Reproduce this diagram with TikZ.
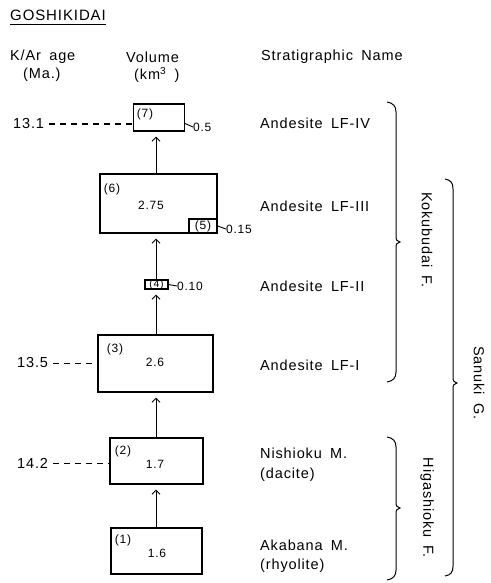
\documentclass[tikz,border=0pt]{standalone}
\usepackage{fontspec}
\setmainfont{Liberation Sans}[LetterSpace=6, WordSpace=1.7]
\usetikzlibrary{arrows.meta,calc}
\begin{document}
\begin{tikzpicture}[x=1pt,y=-1pt,
  big/.style={font=\fontsize{14.5}{17}\selectfont, inner sep=0pt},
  small/.style={font=\fontsize{12}{14}\selectfont, inner sep=0pt},
  tiny/.style={font=\fontsize{10.5}{12}\selectfont, inner sep=0pt},
  vbox/.style={draw, line width=1.1pt, inner sep=0pt},
  arr/.style={line width=1pt, -{Straight Barb[length=4pt,width=8pt]}, shorten >=5pt},
  agedash/.style={line width=1pt, dash pattern=on 6pt off 5pt},
  tick/.style={line width=0.9pt},
  brc/.style={line width=1pt}]
\useasboundingbox (0,0) rectangle (490,583);
% title and headings
\node[font=\fontsize{15}{17}\selectfont, inner sep=0pt, anchor=west] (g) at (10,15) {GOSHIKIDAI};
\draw[line width=1pt] ($(g.base west)+(0,4)$) -- ($(g.base east)+(0,4)$);
\node[big, anchor=west] (h1) at (10,57) {K/Ar age};
\node[big, anchor=west] (h2) at (23,75) {(Ma.)};
\node[big, anchor=west] (h3) at (126,57) {Volume};
\node[big, anchor=west] (h4) at (134,75) {(km\textsuperscript{3} )};
\node[big, anchor=west] (h5) at (261,57) {Stratigraphic Name};
% boxes
\node[vbox, minimum width=51pt, minimum height=27pt] (b7) at (159,117.5) {};
\node[vbox, minimum width=117pt, minimum height=59pt] (b6) at (158.5,203.5) {};
\node[vbox, minimum width=28pt, minimum height=14pt] (b5) at (203,226) {};
\node[vbox, minimum width=23pt, minimum height=9pt] (b4) at (156.5,284.5) {};
\node[vbox, minimum width=115pt, minimum height=57pt] (b3) at (155.5,363.5) {};
\node[vbox, minimum width=93pt, minimum height=46pt] (b2) at (156.5,461) {};
\node[vbox, minimum width=91pt, minimum height=46pt] (b1) at (156.5,551) {};
% box labels
\node[small] (t7) at (145,114) {(7)};
\node[small] (t6) at (112,189) {(6)};
\node[small] (v6) at (151,205) {2.75};
\node[small] (t5) at (b5) {(5)};
\node[tiny] (t4) at (b4) {(4)};
\node[small] (t3) at (115,349) {(3)};
\node[small] (v3) at (155,362) {2.6};
\node[small] (t2) at (123,451) {(2)};
\node[small] (v2) at (155,464) {1.7};
\node[small] (t1) at (123,540) {(1)};
\node[small] (v1) at (157,553) {1.6};
% small volumes
\node[small, anchor=west] (s7) at (193,127) {0.5};
\node[small, anchor=west] (s5) at (226,229) {0.15};
\node[small, anchor=west] (s4) at (177,286) {0.10};
\draw[tick] ([yshift=-6pt]b7.east) -- (s7.west);
\draw[tick] (b5.east) -- (s5.west);
\draw[tick] (b4.east) -- (s4.west);
% arrows
\coordinate (ax) at (156,0);
\draw[arr] (b1.north -| ax) -- (b2.south -| ax);
\draw[arr] (b2.north -| ax) -- (b3.south -| ax);
\draw[arr] (b3.north -| ax) -- (b4.south -| ax);
\draw[arr] (b4.north -| ax) -- (b6.south -| ax);
\draw[arr] (b6.north -| ax) -- (b7.south -| ax);
% ages
\node[big, anchor=west] (a1) at (13,124) {13.1};
\node[big, anchor=west] (a2) at (17,363) {13.5};
\node[big, anchor=west] (a3) at (17,463) {14.2};
\coordinate (d1) at (49,124);
\coordinate (d2) at (53,363);
\coordinate (d3) at (53,463);
\draw[agedash] (d1) -- (b7.west |- d1);
\draw[agedash] (d2) -- (b3.west |- d2);
\draw[agedash] (d3) -- (b2.west |- d3);
% stratigraphic names
\node[big, anchor=west] (n7) at (260,123) {Andesite LF-IV};
\node[big, anchor=west] (n6) at (260,206) {Andesite LF-III};
\node[big, anchor=west] (n4) at (260,286) {Andesite LF-II};
\node[big, anchor=west] (n3) at (260,365) {Andesite LF-I};
\node[big, anchor=west] (n2a) at (260,453) {Nishioku M.};
\node[big, anchor=west] (n2b) at (260,475) {(dacite)};
\node[big, anchor=west] (n1a) at (260,545) {Akabana M.};
\node[big, anchor=west] (n1b) at (260,566) {(rhyolite)};
% braces
\draw[brc] (387,102) .. controls (393,103) and (396,106) .. (396,112) -- (396,236)
  .. controls (396,240) and (397,241.5) .. (400,242) .. controls (397,242.5) and (396,244) .. (396,248)
  -- (396,372) .. controls (396,378) and (393,381) .. (387,382);
\draw[brc] (387,437) .. controls (393,438) and (396,441) .. (396,447) -- (396,502)
  .. controls (396,506) and (397,507.5) .. (400,508) .. controls (397,508.5) and (396,510) .. (396,514)
  -- (396,570) .. controls (396,576) and (393,579) .. (387,580);
\draw[brc] (445,179) .. controls (451,180) and (453,183) .. (453,189) -- (453,377)
  .. controls (453,381) and (454,382.5) .. (457,383) .. controls (454,383.5) and (453,385) .. (453,389)
  -- (453,566) .. controls (453,572) and (451,575) .. (445,576);
\node[big, rotate=-90] (k) at (427,240) {Kokubudai F.};
\node[big, rotate=-90] (hf) at (427,508) {Higashioku F.};
\node[big, rotate=-90] (sg) at (479,383) {Sanuki G.};
\end{tikzpicture}
\end{document}
